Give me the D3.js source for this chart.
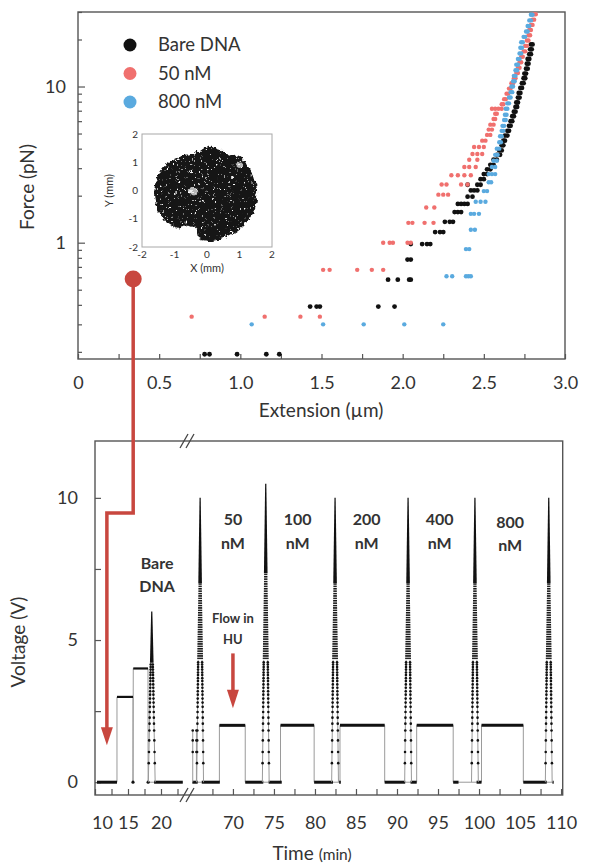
<!DOCTYPE html>
<html>
<head>
<meta charset="utf-8">
<script src="https://cdn.jsdelivr.net/npm/d3@7"></script>
<style>
  body { margin: 0; background: #fff; }
  svg text { font-family: Lato, "Open Sans", sans-serif; fill: #333; }
</style>
</head>
<body>
<svg id="fig" width="589" height="866"></svg>
<script>
// ---------- top panel data (force vs extension) ----------
const extTicks = [0, 0.25, 0.5, 0.75, 1, 1.25, 1.5, 1.75, 2, 2.25, 2.5, 2.75, 3];
const extLabels = ["0", "", "0.5", "", "1.0", "", "1.5", "", "2.0", "", "2.5", "", "3.0"];
const forceMajor = [1, 10];
const forceMinor = [0.2, 0.3, 0.4, 0.5, 0.6, 0.7, 0.8, 0.9, 2, 3, 4, 5, 6, 7, 8, 9, 20, 30];

const legendNames = ["Bare DNA", "50 nM", "800 nM"];
const legendColors = ["#111111", "#f0706e", "#5aaadf"];

// each force level holds the extensions recorded at that level
const bareForce = [0.193, 0.39, 0.58, 0.78, 0.98, 1.17, 1.36, 1.57, 1.77, 1.97, 2.16, 2.35,
  2.55, 2.75, 2.95, 3.15, 3.4, 3.65, 3.9, 4.2, 4.5, 4.85, 5.2, 5.6, 6.0, 6.45, 6.9, 7.4, 7.9,
  8.5, 9.1, 9.8, 10.5, 11.3, 12.1, 13.0, 14.0, 15.0, 16.1, 17.3, 18.6];
const bareExt = [
  [0.78, 0.81, 0.98, 1.16, 1.24], [1.43, 1.47, 1.49, 1.85, 1.95], [1.91, 1.97, 2.04, 2.05],
  [2.03, 2.05], [2.05, 2.12, 2.15, 2.17], [2.20, 2.23, 2.25], [2.26, 2.29, 2.31],
  [2.32, 2.34, 2.36], [2.34, 2.36, 2.38, 2.40], [2.40, 2.43], [2.42, 2.44, 2.46], [2.40, 2.46, 2.48],
  [2.48, 2.50], [2.50, 2.52], [2.52, 2.54], [2.54, 2.56], [2.56, 2.58], [2.58, 2.60], [2.595, 2.61],
  [2.61, 2.62], [2.62, 2.63], [2.63, 2.645], [2.645, 2.655], [2.655, 2.665], [2.665, 2.675],
  [2.675, 2.685], [2.685, 2.695], [2.695, 2.705], [2.70, 2.71], [2.71, 2.72], [2.715, 2.725],
  [2.725, 2.735], [2.735, 2.745], [2.745, 2.755], [2.75, 2.76], [2.76, 2.77], [2.765, 2.775],
  [2.77, 2.78], [2.78, 2.79], [2.785, 2.795], [2.79, 2.80]
];

const redForce = [0.336, 0.67, 1.0, 1.34, 1.68, 2.03, 2.36, 2.70, 3.05, 3.4, 3.7, 4.1,
  4.5, 4.9, 5.3, 5.7, 6.2, 6.7, 7.2, 7.7, 8.3, 9.0, 9.7, 10.5, 11.3, 12.2, 13.2, 14.3, 15.5,
  16.8, 18.2, 19.7, 21.3, 23.0, 24.8, 26.8, 29.0];
const redExt = [
  [0.70, 1.15, 1.37, 1.49], [1.51, 1.55, 1.72, 1.81, 1.88], [1.88, 1.92, 1.94, 2.03, 2.05],
  [2.035, 2.06, 2.135, 2.19], [2.145, 2.195], [2.22, 2.25, 2.28], [2.24, 2.27, 2.36, 2.40],
  [2.30, 2.34, 2.38, 2.42], [2.38, 2.41, 2.45], [2.41, 2.46], [2.43, 2.46, 2.49], [2.44, 2.47, 2.50],
  [2.49, 2.51], [2.52, 2.54], [2.53, 2.55], [2.54, 2.56], [2.56, 2.57], [2.57, 2.58],
  [2.55, 2.57, 2.59, 2.61], [2.61, 2.62], [2.625, 2.635], [2.64, 2.65], [2.655, 2.665],
  [2.67, 2.68], [2.685, 2.695], [2.70, 2.71], [2.71, 2.72], [2.72, 2.73], [2.73, 2.74],
  [2.745, 2.755], [2.755, 2.765], [2.765, 2.775], [2.775, 2.785], [2.78, 2.79], [2.79, 2.80],
  [2.80, 2.81], [2.81, 2.82]
];

const blueForce = [0.30, 0.61, 0.91, 1.21, 1.53, 1.83, 2.14, 2.44, 2.75, 3.05, 3.35, 3.65,
  4.0, 4.4, 4.8, 5.2, 5.6, 6.1, 6.6, 7.2, 7.8, 8.5, 9.2, 10.0, 10.8, 11.7, 12.7, 13.8, 15.0,
  16.3, 17.7, 19.2, 20.8, 22.5, 24.4, 26.5, 28.8];
const blueExt = [
  [1.07, 1.51, 1.76, 2.01, 2.25], [2.27, 2.305, 2.39, 2.405, 2.42], [2.39, 2.41], [2.42, 2.445],
  [2.42, 2.44, 2.47], [2.45, 2.48, 2.51], [2.50, 2.52], [2.53, 2.545], [2.53, 2.55, 2.57],
  [2.55, 2.57], [2.56, 2.58], [2.57, 2.585],
  [2.58, 2.595], [2.595, 2.605], [2.60, 2.61], [2.61, 2.62], [2.615, 2.625], [2.625, 2.635],
  [2.63, 2.64], [2.635, 2.645], [2.645, 2.655], [2.655, 2.665], [2.665, 2.675], [2.67, 2.68],
  [2.68, 2.69], [2.685, 2.695], [2.695, 2.705], [2.70, 2.71], [2.71, 2.72], [2.72, 2.73],
  [2.725, 2.735], [2.73, 2.74], [2.745, 2.755], [2.76, 2.77], [2.77, 2.78], [2.78, 2.79], [2.79, 2.80]
];

// inset: bead position cloud (outline, mm)
const insetTicks = [-2, -1, 0, 1, 2];
const blobOutline = [[-0.01, 1.61], [0.3, 1.55], [0.6, 1.32], [1.02, 1.2], [1.22, 0.84], [1.48, 0.25],
  [1.48, -0.45], [1.22, -1.04], [0.71, -1.52], [0.09, -1.75], [-0.32, -1.63], [-0.40, -1.30],
  [-0.62, -1.18], [-0.93, -1.28], [-1.39, -0.93], [-1.65, -0.22], [-1.45, 0.79], [-0.83, 1.26], [-0.4, 1.35]];
const blobHoles = [[-0.45, 0.0, 0.12], [0.95, 0.95, 0.1]];

// ---------- bottom panel data (voltage vs time) ----------
const voltTicks = [0, 2.5, 5, 7.5, 10];
const voltLabels = ["0", "", "5", "", "10"];
const timeTicksLeft = [10, 12.5, 15, 17.5, 20, 22.5];
const timeLabelsLeft = ["10", "", "15", "", "20", ""];
const timeTicksRight = [67.5, 70, 72.5, 75, 77.5, 80, 82.5, 85, 87.5, 90, 92.5, 95, 97.5, 100, 102.5, 105, 107.5, 110];
const timeLabelsRight = ["", "70", "", "75", "", "80", "", "85", "", "90", "", "95", "", "100", "", "105", "", "110"];

// the sampled trace (min, V)
const trace = [[10.3, 0], [13.33, 0], [13.33, 3], [15.76, 3], [15.76, 0], [15.8, 4], [18.03, 4], [18.05, 0],
  [18.95, 0], [23.3, 0],
  [65.05, 0], [65.7, 0], [66.2, 0], [68.35, 0], [68.35, 2], [71.5, 2], [71.5, 0], [73.7, 0], [74.35, 0],
  [75.8, 0], [75.8, 2], [79.9, 2], [79.9, 0], [82.2, 0], [83.05, 0], [83.05, 2], [88.5, 2], [88.5, 0],
  [91.0, 0], [91.65, 0], [92.4, 0], [92.4, 2], [96.85, 2], [96.85, 0], [98.9, 0], [99.7, 0], [100.3, 0],
  [100.3, 2], [105.4, 2], [105.4, 0], [108.25, 0], [109.05, 0]];
// held levels: start, end, V
const plateaus = [[10.3, 13.33, 0], [13.33, 15.76, 3], [15.8, 18.03, 4], [18.95, 23.3, 0],
  [65.05, 65.7, 0], [66.2, 68.4, 0], [68.35, 71.5, 2], [71.5, 73.7, 0], [74.35, 75.95, 0],
  [75.8, 79.9, 2], [79.9, 82.2, 0], [82.95, 83.15, 0], [83.05, 88.5, 2], [88.5, 91.0, 0],
  [91.65, 92.4, 0], [92.4, 96.85, 2], [96.85, 97.5, 0], [99.7, 100.3, 0], [100.3, 105.4, 2],
  [105.4, 108.25, 0], [108.95, 109.1, 0]];
const zeroDots = [15.76, 18.05];
// force ramps: centre time, peak voltage
const spikes = [[18.6, 6.0], [66.0, 10.0], [74.0, 10.5], [82.45, 10.0], [91.35, 10.0], [99.5, 10.0], [108.5, 10.0]];
const rampLevels = [0.67, 1.06, 1.47, 1.82, 2.06, 2.27, 2.47, 2.65, 2.8, 2.94, 3.08, 3.2, 3.32, 3.44,
  3.56, 3.66, 3.77, 3.86, 3.96, 4.05, 4.14, 4.22, 4.31];
const miniRamps = [[65.1, 1.82], [65.55, 1.82]];

const concNames = ["50", "100", "200", "400", "800"];
const concTimes = [70.0, 77.9, 86.3, 95.2, 103.8];
const concVolts = [9.23, 9.23, 9.23, 9.23, 9.15];

const svg = d3.select("#fig");
const red = "#c8473f";
const defs = svg.append("defs");

// ================= top panel =================
const x1 = d3.scaleLinear().domain([0, 3]).range([78, 565]);
const y1 = d3.scaleLog().domain([0.18, 30]).range([359, 12]);

svg.append("rect")
   .attr("x", 78).attr("y", 12).attr("width", 487).attr("height", 347)
   .attr("fill", "none").attr("stroke", "#555").attr("stroke-width", 1.4);

const gx1 = svg.append("g").attr("transform", "translate(0,359)")
   .call(d3.axisBottom(x1).tickValues(extTicks).tickFormat((d, i) => extLabels[i])
          .tickSize(-5).tickPadding(17));
const gy1 = svg.append("g").attr("transform", "translate(78,0)")
   .call(d3.axisLeft(y1).tickValues(forceMajor).tickFormat(d3.format("d"))
          .tickSize(-7).tickPadding(12));
const gy1m = svg.append("g").attr("transform", "translate(78,0)")
   .call(d3.axisLeft(y1).tickValues(forceMinor).tickFormat("").tickSize(-4));
[gx1, gy1, gy1m].forEach(g => {
    g.select(".domain").remove();
    g.selectAll("line").attr("stroke", "#555").attr("stroke-width", 1.2);
    g.selectAll("text").attr("font-size", 18).attr("fill", "#333");
});

svg.append("text")
   .attr("transform", "translate(27,187) rotate(-90)")
   .attr("text-anchor", "middle").attr("dy", "0.35em")
   .attr("font-size", 19).text("Force (pN)");
svg.append("text")
   .attr("x", 321).attr("y", 410).attr("dy", "0.35em")
   .attr("text-anchor", "middle").attr("font-size", 19).text("Extension (µm)");

const seriesList = [
    { force: bareForce, ext: bareExt, color: legendColors[0], r: 2.4 },
    { force: redForce, ext: redExt, color: legendColors[1], r: 2.2 },
    { force: blueForce, ext: blueExt, color: legendColors[2], r: 2.2 }
];
seriesList.forEach(s => {
    const pts = [];
    s.force.forEach((f, i) => s.ext[i].forEach(e => pts.push([e, f])));
    svg.append("g").selectAll("circle")
       .data(pts).enter().append("circle")
       .attr("cx", d => x1(d[0]))
       .attr("cy", d => y1(d[1]))
       .attr("r", s.r)
       .attr("fill", s.color);
});

// legend
legendNames.forEach((name, i) => {
    svg.append("circle").attr("cx", 130).attr("cy", 45 + i * 28.5).attr("r", 6.5).attr("fill", legendColors[i]);
    svg.append("text").attr("x", 158).attr("y", 45 + i * 28.5).attr("dy", "0.35em")
       .attr("font-size", 18.5).attr("fill", "#222").text(name);
});

// inset
const xi = d3.scaleLinear().domain([-2, 2]).range([142, 272]);
const yi = d3.scaleLinear().domain([-2, 2]).range([247, 134]);

const filt = defs.append("filter").attr("id", "scribble")
   .attr("x", "-20%").attr("y", "-20%").attr("width", "140%").attr("height", "140%");
filt.append("feTurbulence").attr("type", "fractalNoise").attr("baseFrequency", 0.5)
    .attr("numOctaves", 3).attr("seed", 11).attr("result", "noise");
filt.append("feColorMatrix").attr("in", "noise").attr("type", "matrix")
    .attr("values", "0 0 0 0 0  0 0 0 0 0  0 0 0 0 0  10 0 0 0 -2.4").attr("result", "mask");
filt.append("feComposite").attr("in", "SourceGraphic").attr("in2", "mask")
    .attr("operator", "in").attr("result", "speckled");
filt.append("feTurbulence").attr("type", "turbulence").attr("baseFrequency", 0.15)
    .attr("numOctaves", 2).attr("seed", 3).attr("result", "warp");
filt.append("feDisplacementMap").attr("in", "speckled").attr("in2", "warp")
    .attr("scale", 5).attr("xChannelSelector", "R").attr("yChannelSelector", "G");

svg.append("rect")
   .attr("x", xi(-2)).attr("y", yi(2)).attr("width", xi(2) - xi(-2)).attr("height", yi(-2) - yi(2))
   .attr("fill", "none").attr("stroke", "#a8a8a8").attr("stroke-width", 1);

const blobG = svg.append("g").attr("filter", "url(#scribble)");
blobG.append("path")
   .attr("d", d3.line().x(d => xi(d[0])).y(d => yi(d[1])).curve(d3.curveCatmullRomClosed)(blobOutline))
   .attr("fill", "#121212");
blobG.selectAll(".hole").data(blobHoles).enter().append("circle")
   .attr("cx", d => xi(d[0])).attr("cy", d => yi(d[1]))
   .attr("r", d => xi(d[2]) - xi(0)).attr("fill", "#fff").attr("opacity", 0.7);

insetTicks.forEach(v => {
    svg.append("text").attr("x", xi(v)).attr("y", 254).attr("dy", "0.35em")
       .attr("text-anchor", "middle").attr("font-size", 10).attr("fill", "#444").text(v);
    svg.append("text").attr("x", 138).attr("y", yi(v)).attr("dy", "0.35em")
       .attr("text-anchor", "end").attr("font-size", 10).attr("fill", "#444").text(v);
});
svg.append("text").attr("x", xi(0)).attr("y", 268).attr("dy", "0.35em")
   .attr("text-anchor", "middle").attr("font-size", 11).attr("fill", "#444").text("X (mm)");
svg.append("text").attr("transform", `translate(109,${yi(0)}) rotate(-90)`).attr("dy", "0.35em")
   .attr("text-anchor", "middle").attr("font-size", 11).attr("fill", "#444").text("Y (mm)");

// ================= bottom panel =================
const yB = d3.scaleLinear().domain([-0.45, 12]).range([795, 441]);
const xL = d3.scaleLinear().domain([10, 23.94]).range([95, 187]);
const xR = d3.scaleLinear().domain([64.4, 110.2]).range([187, 562.7]);
const xT = t => (t < 40 ? xL(t) : xR(t));

svg.append("rect")
   .attr("x", 95).attr("y", 441).attr("width", 467.7).attr("height", 354)
   .attr("fill", "none").attr("stroke", "#555").attr("stroke-width", 1.4);

const gxl = svg.append("g").attr("transform", "translate(0,795)")
   .call(d3.axisBottom(xL).tickValues(timeTicksLeft).tickFormat((d, i) => timeLabelsLeft[i])
          .tickSize(-6).tickPadding(21));
const gxr = svg.append("g").attr("transform", "translate(0,795)")
   .call(d3.axisBottom(xR).tickValues(timeTicksRight).tickFormat((d, i) => timeLabelsRight[i])
          .tickSize(-6).tickPadding(21));
const gyB = svg.append("g").attr("transform", "translate(95,0)")
   .call(d3.axisLeft(yB).tickValues(voltTicks).tickFormat((d, i) => voltLabels[i])
          .tickSize(-6).tickPadding(17));
[gxl, gxr, gyB].forEach(g => {
    g.select(".domain").remove();
    g.selectAll("line").attr("stroke", "#555").attr("stroke-width", 1.2);
    g.selectAll("text").attr("font-size", 18).attr("fill", "#333");
});
// first time label sits just inside the frame corner
gxl.selectAll(".tick text").filter(d => d === 10).attr("dx", 7);

// axis break marks
[441, 795].forEach(yy => {
    [-3, 3].forEach(off => {
        svg.append("line")
           .attr("x1", 187 + off - 4).attr("y1", yy + 7)
           .attr("x2", 187 + off + 4).attr("y2", yy - 7)
           .attr("stroke", "#444").attr("stroke-width", 1.3);
    });
});

svg.append("text")
   .attr("transform", "translate(18,642) rotate(-90)")
   .attr("text-anchor", "middle").attr("dy", "0.35em")
   .attr("font-size", 19).text("Voltage (V)");
const tt = svg.append("text").attr("x", 312).attr("y", 853).attr("dy", "0.35em")
   .attr("text-anchor", "middle").attr("font-size", 19);
tt.append("tspan").text("Time ");
tt.append("tspan").attr("font-size", 15.5).text("(min)");

// hatch used for the densely sampled middle of each ramp
const hatch = defs.append("pattern").attr("id", "hatch").attr("patternUnits", "userSpaceOnUse")
   .attr("width", 6).attr("height", 2.4);
hatch.append("rect").attr("width", 6).attr("height", 1.5).attr("fill", "#111");

const plotG = svg.append("g");
// grey connecting trace, split at the axis break
const traceLine = d3.line().x(d => xT(d[0])).y(d => yB(d[1]));
plotG.append("path").attr("d", traceLine(trace.filter(d => d[0] < 40)))
   .attr("fill", "none").attr("stroke", "#9a9a9a").attr("stroke-width", 1);
plotG.append("path").attr("d", traceLine(trace.filter(d => d[0] > 40)))
   .attr("fill", "none").attr("stroke", "#9a9a9a").attr("stroke-width", 1);

// held levels (densely sampled -> solid)
plotG.selectAll(".plat").data(plateaus).enter().append("line")
   .attr("x1", d => xT(d[0])).attr("x2", d => xT(d[1]))
   .attr("y1", d => yB(d[2])).attr("y2", d => yB(d[2]))
   .attr("stroke", "#111").attr("stroke-width", d => (d[2] > 2.5 ? 2.2 : 3));
plotG.selectAll(".zd").data(zeroDots).enter().append("circle")
   .attr("cx", d => xT(d)).attr("cy", yB(0)).attr("r", 1.6).attr("fill", "#111");

// small ramps before the first HU spike
miniRamps.forEach(([t, top]) => {
    const xc = xT(t);
    plotG.append("line").attr("x1", xc).attr("x2", xc).attr("y1", yB(0)).attr("y2", yB(top))
       .attr("stroke", "#9a9a9a").attr("stroke-width", 1);
    plotG.selectAll(null).data(rampLevels.filter(v => v <= top && v > 1)).enter().append("circle")
       .attr("cx", xc).attr("cy", d => yB(d)).attr("r", 1.3).attr("fill", "#111");
});

// force ramps: dotted foot, hatched middle, solid tip
spikes.forEach(([t, peak]) => {
    const xc = xT(t), hw = 3.4;
    const vDot = Math.min(4.3, peak * 0.7);
    const vTip = peak * 0.7;
    const off = v => hw * (1 - v / peak);
    [-1, 1].forEach(s => {
        plotG.append("line")
           .attr("x1", xc + s * hw).attr("y1", yB(0))
           .attr("x2", xc + s * off(vDot)).attr("y2", yB(vDot))
           .attr("stroke", "#9a9a9a").attr("stroke-width", 1);
        plotG.selectAll(null).data(rampLevels.filter(v => v <= vDot)).enter().append("circle")
           .attr("cx", d => xc + s * off(d)).attr("cy", d => yB(d))
           .attr("r", 1.3).attr("fill", "#111");
    });
    const wedge = (v0, v1) => `M${xc - off(v0) - 1},${yB(v0)} L${xc - off(v1) - 0.6},${yB(v1)} ` +
                              `L${xc + off(v1) + 0.6},${yB(v1)} L${xc + off(v0) + 1},${yB(v0)} Z`;
    if (vTip > vDot) {
        plotG.append("path").attr("d", wedge(vDot, vTip)).attr("fill", "url(#hatch)");
    }
    plotG.append("path")
       .attr("d", `M${xc - off(vTip) - 0.8},${yB(vTip)} L${xc - 0.6},${yB(peak)} L${xc + 0.6},${yB(peak)} L${xc + off(vTip) + 0.8},${yB(vTip)} Z`)
       .attr("fill", "#111");
});

// condition labels
const bare = svg.append("text").attr("font-size", 16).attr("font-weight", "bold")
   .attr("text-anchor", "middle").attr("fill", "#222");
bare.append("tspan").attr("x", xT(19.4)).attr("y", yB(7.68)).attr("dy", "0.35em").text("Bare");
bare.append("tspan").attr("x", xT(19.4)).attr("y", yB(6.88)).attr("dy", "0.35em").text("DNA");

concNames.forEach((c, i) => {
    const t = svg.append("text").attr("font-size", 16).attr("font-weight", "bold")
       .attr("text-anchor", "middle").attr("fill", "#222");
    t.append("tspan").attr("x", xT(concTimes[i])).attr("y", yB(concVolts[i])).attr("dy", "0.35em").text(c);
    t.append("tspan").attr("x", xT(concTimes[i])).attr("y", yB(concVolts[i] - 0.82)).attr("dy", "0.35em").text("nM");
});

const flow = svg.append("text").attr("font-size", 13).attr("font-weight", "bold")
   .attr("text-anchor", "middle").attr("fill", "#222");
flow.append("tspan").attr("x", xT(70.0)).attr("y", yB(5.75)).attr("dy", "0.35em").text("Flow in");
flow.append("tspan").attr("x", xT(70.0)).attr("y", yB(5.03)).attr("dy", "0.35em").text("HU");

// flow arrow
const fx = xT(70.0);
svg.append("line").attr("x1", fx).attr("x2", fx).attr("y1", yB(4.53)).attr("y2", yB(3.2))
   .attr("stroke", red).attr("stroke-width", 3.5);
svg.append("path")
   .attr("d", `M${fx - 6},${yB(3.25)} L${fx + 6},${yB(3.25)} L${fx},${yB(2.6)} Z`).attr("fill", red);

// connector from the force-extension point to the trace
const mx = x1(0.34), my = y1(0.585);
const ex = xL(11.8), ey = yB(9.47), tipY = yB(1.3);
svg.append("path")
   .attr("d", `M${mx},${my} V${ey} H${ex} V${tipY - 16}`)
   .attr("fill", "none").attr("stroke", red).attr("stroke-width", 3.5);
svg.append("path")
   .attr("d", `M${ex - 6},${tipY - 18} L${ex + 6},${tipY - 18} L${ex},${tipY} Z`).attr("fill", red);
svg.append("circle").attr("cx", mx).attr("cy", my).attr("r", 8.5).attr("fill", red);
</script>
</body>
</html>
